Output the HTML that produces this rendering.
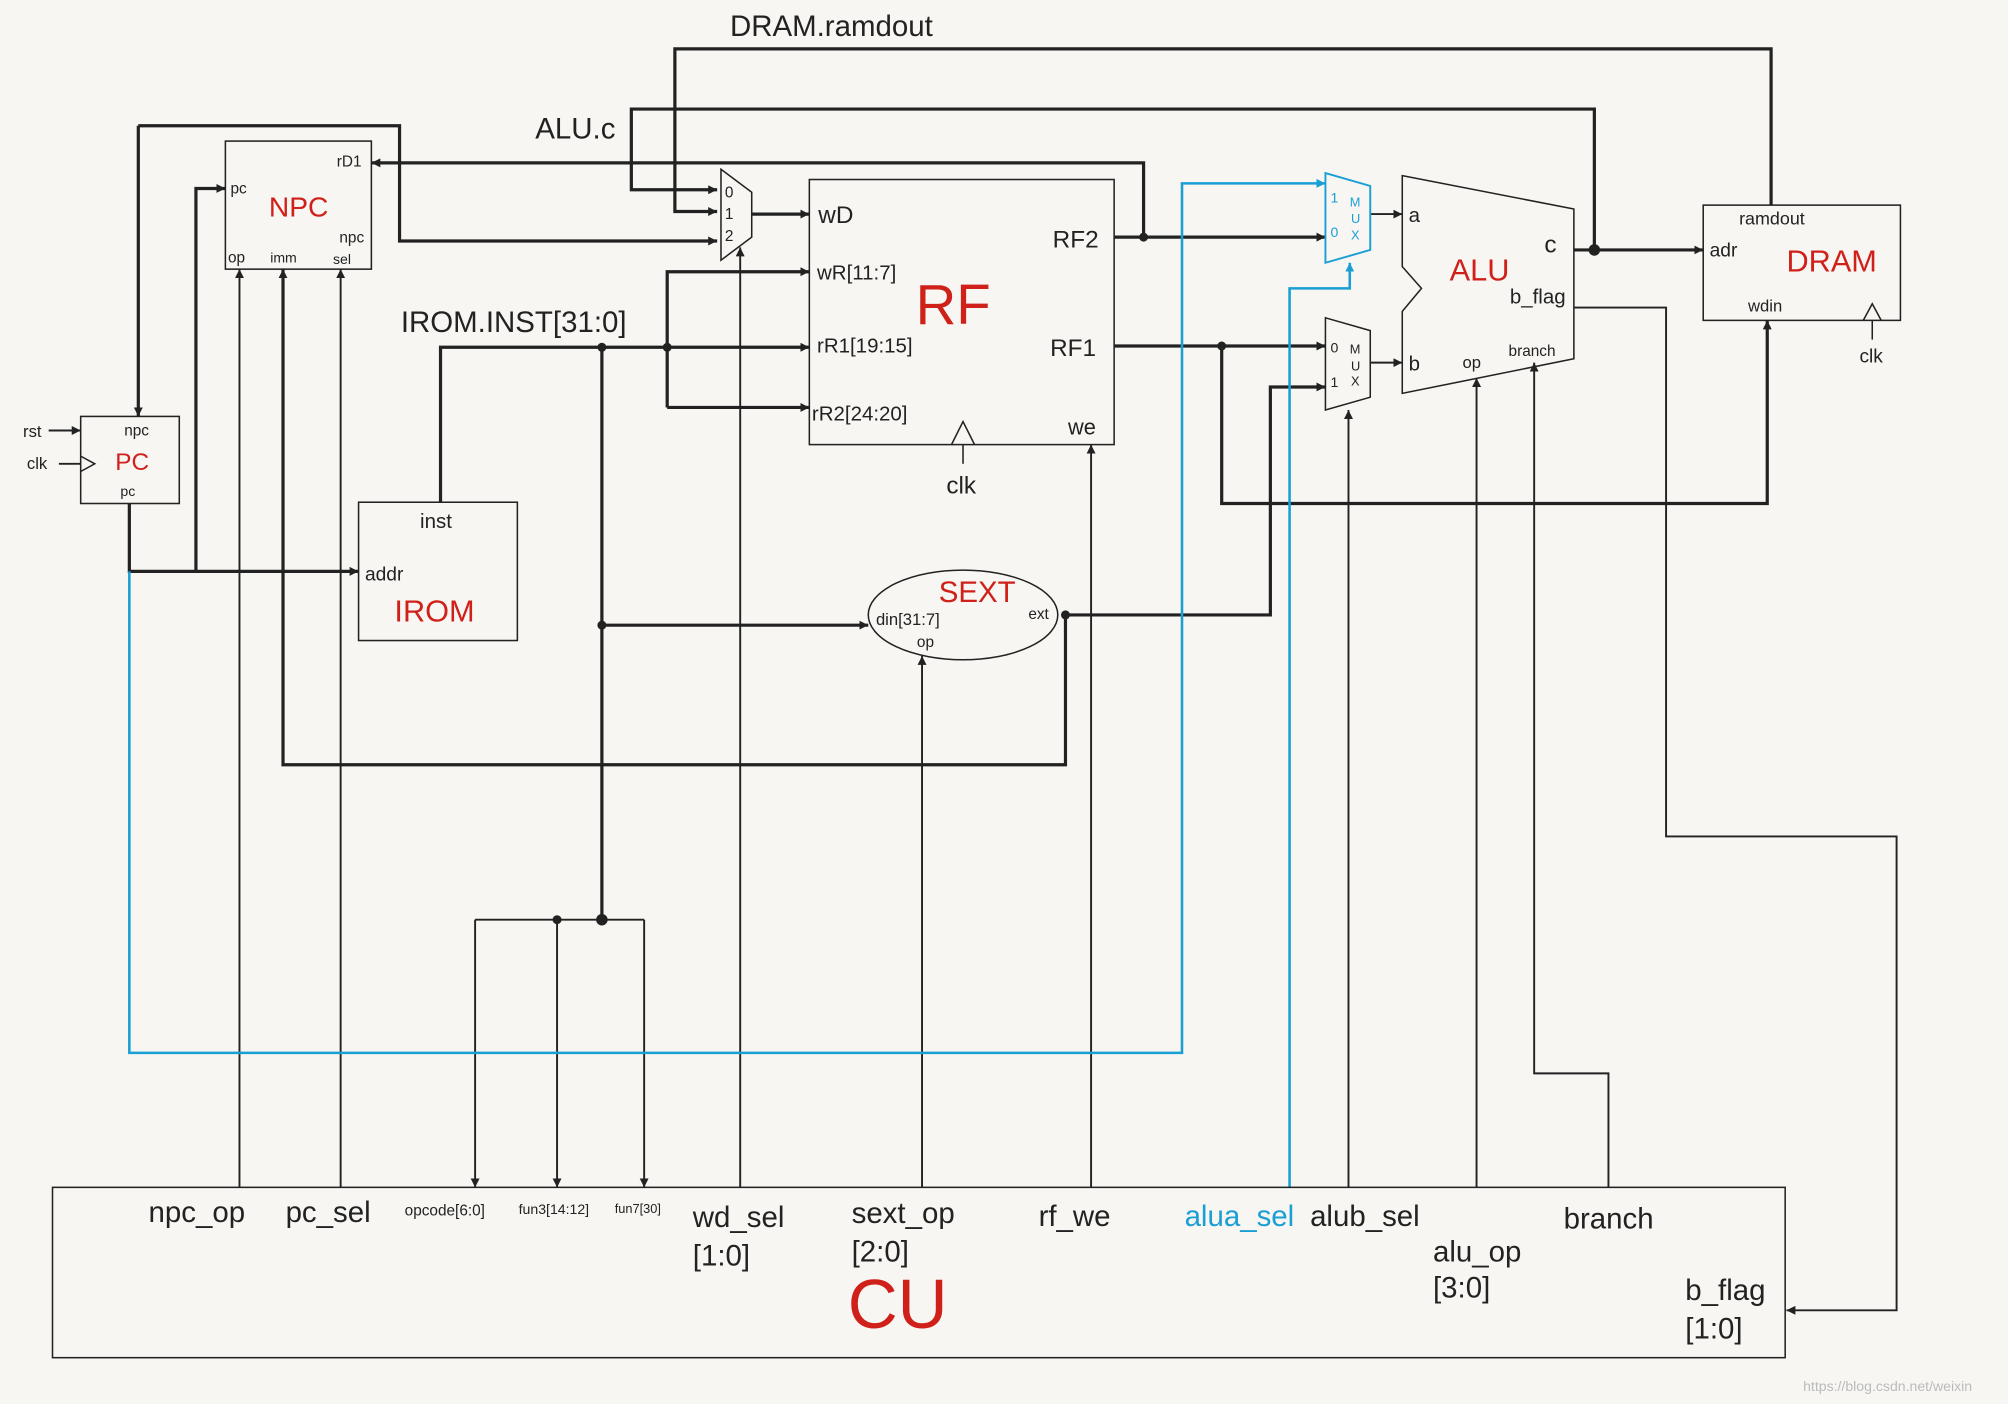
<!DOCTYPE html>
<html><head><meta charset="utf-8"><style>
html,body{margin:0;padding:0;background:#f7f6f2;}
svg{display:block;}
text{font-family:"Liberation Sans",sans-serif;fill:#222;}
.r{fill:#d0201a;}
.b{fill:#1a9fd4;}
</style></head><body>
<svg width="2008" height="1404" viewBox="0 0 1568 1096" xmlns="http://www.w3.org/2000/svg">
<defs>
<marker id="a" viewBox="0 0 10 10" refX="10" refY="5" markerWidth="7" markerHeight="7" orient="auto-start-reverse" markerUnits="userSpaceOnUse"><path d="M0,0L10,5L0,10z" fill="#222"/></marker>
<marker id="ab" viewBox="0 0 10 10" refX="10" refY="5" markerWidth="7" markerHeight="7" orient="auto-start-reverse" markerUnits="userSpaceOnUse"><path d="M0,0L10,5L0,10z" fill="#1a9fd4"/></marker>
</defs>
<rect width="1568" height="1096" fill="#f7f6f2"/>
<g fill="none" stroke="#222" stroke-width="2.5">
<!-- DRAM.ramdout -->
<polyline points="1383,160 1383,38 527,38 527,165 560,165" marker-end="url(#a)"/>
<!-- ALU.c -->
<polyline points="1245,195 1245,85 493,85 493,148 560,148" marker-end="url(#a)"/>
<!-- npc loop -->
<polyline points="108,98 312,98 312,188 560,188" marker-end="url(#a)"/>
<polyline points="108,98 108,325" marker-end="url(#a)"/>
<!-- rD1 -->
<polyline points="893,185 893,127 290,127" marker-end="url(#a)"/>
<!-- pc out -->
<polyline points="101,393 101,446 280,446" marker-end="url(#a)"/>
<polyline points="153,446 153,147 176,147" marker-end="url(#a)"/>
<!-- inst -->
<polyline points="344,392 344,271 632,271" marker-end="url(#a)"/>
<polyline points="470,271 470,718"/>
<polyline points="470,488 678,488" marker-end="url(#a)"/>
<polyline points="521,318 521,212 632,212" marker-end="url(#a)"/>
<polyline points="521,318 632,318" marker-end="url(#a)"/>
<!-- mux wd out -->
<polyline points="587,167 632,167" marker-end="url(#a)"/>
<!-- RF2 -->
<polyline points="870,185 1035,185" marker-end="url(#a)"/>
<!-- RF1 -->
<polyline points="870,270 1035,270" marker-end="url(#a)"/>
<polyline points="954,270 954,393 1380,393 1380,250" marker-end="url(#a)"/>
<!-- mux outs -->
<polyline points="1070,167 1095,167" stroke-width="1.5" marker-end="url(#a)"/>
<polyline points="1070,283 1095,283" stroke-width="1.5" marker-end="url(#a)"/>
<!-- c out -->
<polyline points="1229,195 1330,195" marker-end="url(#a)"/>
<!-- ext -->
<polyline points="832,480 992,480 992,302 1035,302" marker-end="url(#a)"/>
<polyline points="832,480 832,597 221,597 221,210" marker-end="url(#a)"/>
</g>
<g fill="none" stroke="#222" stroke-width="1.5">
<polyline points="1229,240 1301,240 1301,653 1481,653 1481,1023 1395,1023" marker-end="url(#a)"/>
<polyline points="371,718 503,718"/>
<polyline points="371,718 371,927" marker-end="url(#a)"/>
<polyline points="435,718 435,927" marker-end="url(#a)"/>
<polyline points="503,718 503,927" marker-end="url(#a)"/>
<polyline points="187,927 187,210" marker-end="url(#a)"/>
<polyline points="266,927 266,210" marker-end="url(#a)"/>
<polyline points="578,927 578,193" marker-end="url(#a)"/>
<polyline points="720,927 720,512" marker-end="url(#a)"/>
<polyline points="852,927 852,347" marker-end="url(#a)"/>
<polyline points="1053,927 1053,320" marker-end="url(#a)"/>
<polyline points="1153,927 1153,295" marker-end="url(#a)"/>
<polyline points="1256,927 1256,838 1198,838 1198,283" marker-end="url(#a)"/>
<polyline points="38,336 63,336" marker-end="url(#a)"/>
<polyline points="46,362 63,362"/>
</g>
<g fill="none" stroke="#1a9fd4" stroke-width="2">
<polyline points="101,446 101,822 923,822 923,143 1035,143" marker-end="url(#ab)"/>
<polyline points="1007,927 1007,225 1054,225 1054,205" marker-end="url(#ab)"/>
</g>
<!-- dots -->
<g fill="#222">
<circle cx="893" cy="185" r="3.5"/><circle cx="470" cy="271" r="3.5"/><circle cx="521" cy="271" r="3.5"/>
<circle cx="470" cy="488" r="3.5"/><circle cx="470" cy="718" r="4.5"/><circle cx="435" cy="718" r="3.5"/>
<circle cx="954" cy="270" r="3.5"/><circle cx="1245" cy="195" r="4.5"/><circle cx="832" cy="480" r="3.5"/>
</g>
<!-- boxes -->
<g fill="none" stroke="#222" stroke-width="1.2">
<rect x="176" y="110" width="114" height="100"/>
<rect x="63" y="325" width="77" height="68"/>
<path d="M63,356 L74,362 L63,368"/>
<rect x="280" y="392" width="124" height="108"/>
<rect x="632" y="140" width="238" height="207"/>
<path d="M743,347 L752,329 L761,347"/>
<path d="M752,347 L752,362"/>
<polygon points="563,132 587,150 587,185 563,203"/>
<polygon points="1035,248 1070,258 1070,310 1035,320"/>
<polygon points="1095,137 1229,163 1229,280 1095,307 1095,243 1110,225 1095,208"/>
<rect x="1330" y="160" width="154" height="90"/>
<path d="M1455,250 L1462,237 L1469,250"/><path d="M1462,250 L1462,265"/>
<ellipse cx="752" cy="480" rx="74" ry="35"/>
<rect x="41" y="927" width="1353" height="133"/>
</g>
<polygon points="1035,135 1070,145 1070,195 1035,205" fill="none" stroke="#1a9fd4" stroke-width="1.5"/>
<!-- text -->
<text x="570" y="28" font-size="23">DRAM.ramdout</text>
<text x="418" y="108" font-size="23">ALU.c</text>
<text x="313" y="259" font-size="23">IROM.INST[31:0]</text>
<text x="263" y="130" font-size="12">rD1</text>
<text x="180" y="151" font-size="12">pc</text>
<text x="210" y="169" font-size="22" class="r">NPC</text>
<text x="265" y="189" font-size="12">npc</text>
<text x="178" y="205" font-size="12">op</text>
<text x="211" y="205" font-size="11">imm</text>
<text x="260" y="206" font-size="11">sel</text>
<text x="97" y="340" font-size="12">npc</text>
<text x="90" y="367" font-size="19" class="r">PC</text>
<text x="94" y="387" font-size="11">pc</text>
<text x="18" y="341" font-size="13">rst</text>
<text x="21" y="366" font-size="13">clk</text>
<text x="328" y="412" font-size="16">inst</text>
<text x="285" y="453" font-size="15">addr</text>
<text x="308" y="485" font-size="24" class="r">IROM</text>
<text x="566" y="154" font-size="12">0</text>
<text x="566" y="171" font-size="12">1</text>
<text x="566" y="188" font-size="12">2</text>
<text x="639" y="174" font-size="19">wD</text>
<text x="638" y="218" font-size="16">wR[11:7]</text>
<text x="638" y="275" font-size="16">rR1[19:15]</text>
<text x="634" y="328" font-size="16">rR2[24:20]</text>
<text x="715" y="253" font-size="44" class="r">RF</text>
<text x="822" y="193" font-size="19">RF2</text>
<text x="820" y="278" font-size="19">RF1</text>
<text x="834" y="339" font-size="17">we</text>
<text x="739" y="385" font-size="19">clk</text>
<text x="733" y="470" font-size="23" class="r">SEXT</text>
<text x="684" y="488" font-size="13">din[31:7]</text>
<text x="803" y="483" font-size="12">ext</text>
<text x="716" y="505" font-size="12">op</text>
<text x="1039" y="158" font-size="11" class="b">1</text>
<text x="1039" y="185" font-size="11" class="b">0</text>
<text x="1054" y="161" font-size="10" class="b">M</text>
<text x="1055" y="174" font-size="10" class="b">U</text>
<text x="1055" y="187" font-size="10" class="b">X</text>
<text x="1039" y="275" font-size="11">0</text>
<text x="1039" y="302" font-size="11">1</text>
<text x="1054" y="276" font-size="10">M</text>
<text x="1055" y="289" font-size="10">U</text>
<text x="1055" y="301" font-size="10">X</text>
<text x="1100" y="173" font-size="16">a</text>
<text x="1100" y="289" font-size="16">b</text>
<text x="1132" y="219" font-size="24" class="r">ALU</text>
<text x="1206" y="197" font-size="19">c</text>
<text x="1179" y="237" font-size="16">b_flag</text>
<text x="1142" y="287" font-size="13">op</text>
<text x="1178" y="278" font-size="12">branch</text>
<text x="1358" y="175" font-size="14">ramdout</text>
<text x="1335" y="200" font-size="15">adr</text>
<text x="1395" y="212" font-size="24" class="r">DRAM</text>
<text x="1365" y="243" font-size="13">wdin</text>
<text x="1452" y="283" font-size="15">clk</text>
<text x="116" y="954" font-size="23">npc_op</text>
<text x="223" y="954" font-size="23">pc_sel</text>
<text x="316" y="949" font-size="12">opcode[6:0]</text>
<text x="405" y="948" font-size="11">fun3[14:12]</text>
<text x="480" y="947" font-size="10">fun7[30]</text>
<text x="541" y="958" font-size="23">wd_sel</text>
<text x="541" y="988" font-size="23">[1:0]</text>
<text x="665" y="955" font-size="23">sext_op</text>
<text x="665" y="985" font-size="23">[2:0]</text>
<text x="662" y="1037" font-size="54" class="r">CU</text>
<text x="811" y="957" font-size="23">rf_we</text>
<text x="925" y="957" font-size="23" class="b">alua_sel</text>
<text x="1023" y="957" font-size="23">alub_sel</text>
<text x="1119" y="985" font-size="23">alu_op</text>
<text x="1119" y="1013" font-size="23">[3:0]</text>
<text x="1221" y="959" font-size="23">branch</text>
<text x="1316" y="1015" font-size="23">b_flag</text>
<text x="1316" y="1045" font-size="23">[1:0]</text>
<text x="1408" y="1086" font-size="11" style="fill:#bbb">https://blog.csdn.net/weixin</text>
</svg>
</body></html>
